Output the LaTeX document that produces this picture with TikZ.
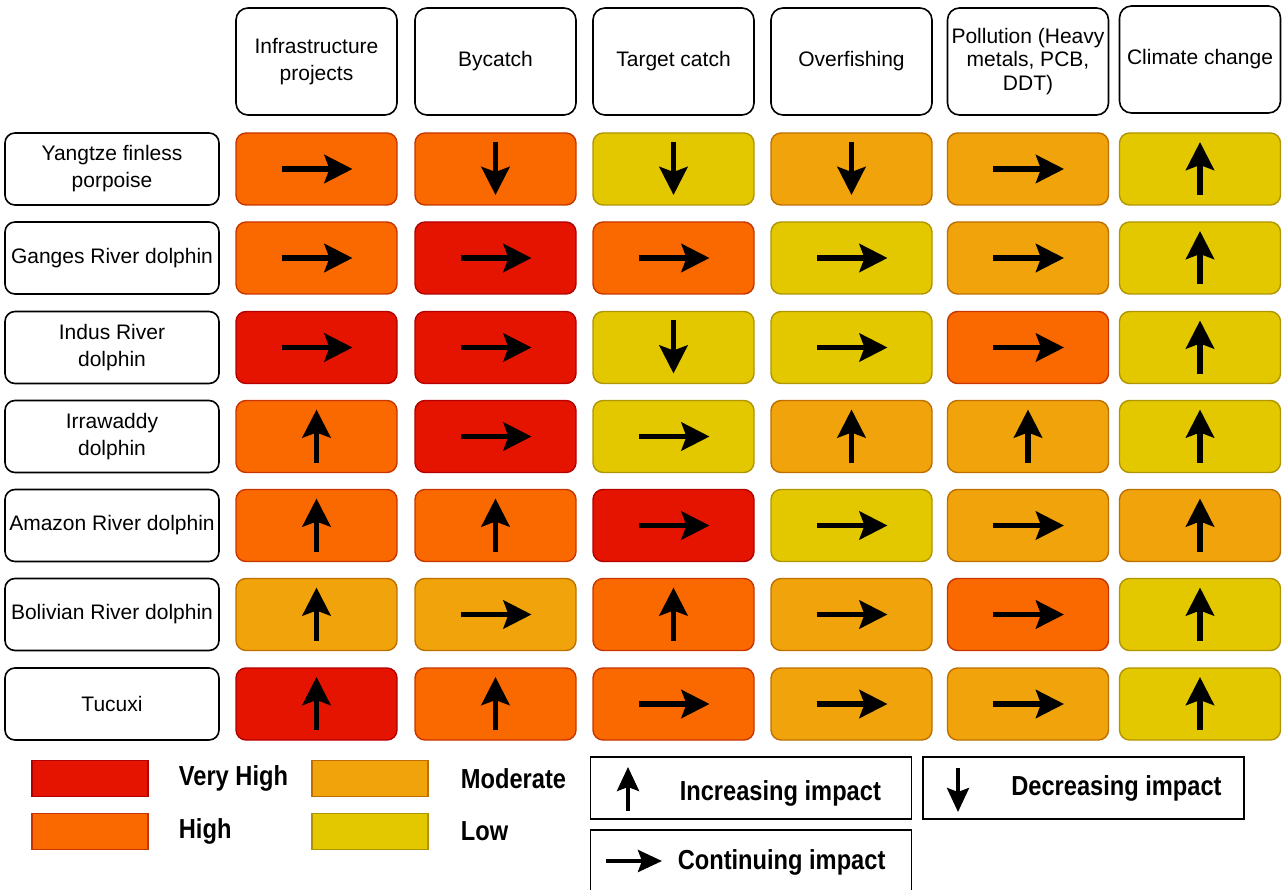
\documentclass[tikz,border=0pt]{standalone}
\usepackage{fontspec}
\setmainfont{Liberation Sans}
\newfontfamily\legendfont{Liberation Sans}[FakeStretch=0.86]
\usetikzlibrary{positioning, arrows.meta}
\definecolor{vhigh}{HTML}{E51400}
\definecolor{vhighline}{HTML}{B20000}
\definecolor{high}{HTML}{FA6800}
\definecolor{highline}{HTML}{C73500}
\definecolor{moder}{HTML}{F0A30A}
\definecolor{moderline}{HTML}{BD7000}
\definecolor{low}{HTML}{E3C800}
\definecolor{lowline}{HTML}{B09500}
% trend arrows inside a cell
\newcommand{\trendR}[1]{\draw[trend] ([xshift=-35pt]#1.center) -- ([xshift=36pt]#1.center);}
\newcommand{\trendU}[1]{\draw[trend] ([yshift=-26pt]#1.center) -- ([yshift=27pt]#1.center);}
\newcommand{\trendD}[1]{\draw[trend] ([yshift=27pt]#1.center) -- ([yshift=-26pt]#1.center);}

\begin{document}
\begin{tikzpicture}[x=1pt, y=-1pt,
    every node/.style={font=\fontsize{21}{27}\selectfont},
    headbox/.style={draw, line width=1.6pt, rounded corners=12pt, minimum width=161pt, minimum height=107pt, align=center, inner sep=2pt},
    namebox/.style={draw, line width=1.6pt, rounded corners=10pt, minimum width=214pt, minimum height=72pt, align=center, inner sep=1pt},
    cell/.style={draw=#1line, fill=#1, line width=1.4pt, rounded corners=10pt, minimum width=161pt, minimum height=72pt},
    swatch/.style={draw=#1line, fill=#1, line width=1.4pt, minimum width=116pt, minimum height=36pt},
    keybox/.style={draw, line width=1.8pt, minimum width=321pt, minimum height=62pt},
    keytext/.style={font=\legendfont\bfseries\fontsize{27.5}{30}\selectfont, anchor=west, inner sep=0pt},
    trend/.style={-{Stealth[length=28pt, width=28pt, inset=5pt]}, line width=5.5pt},
    keytrend/.style={-{Stealth[length=24pt, width=22pt, inset=4pt]}, line width=4pt},
  ]
  \clip (0,0) rectangle (1284,890);

  % threat headers
  \node[headbox] (h1) at (316.5,61.5) {Infrastructure\\projects};
  \node[headbox] (h2) at (495.5,61.5) {Bycatch};
  \node[headbox] (h3) at (673.5,61.5) {Target catch};
  \node[headbox] (h4) at (851.5,61.5) {Overfishing};
  \node[headbox, font=\fontsize{21}{23.5}\selectfont] (h5) at (1028,61.5) {Pollution (Heavy\\metals, PCB,\\DDT)};
  \node[headbox] (h6) at (1200,59.5) {Climate change};

  % species rows
  \node[namebox] (r1) at (112,169) {Yangtze finless\\porpoise};
  \node[namebox] (r2) at (112,258) {Ganges River dolphin};
  \node[namebox] (r3) at (112,347.5) {Indus River\\dolphin};
  \node[namebox] (r4) at (112,436.5) {Irrawaddy\\dolphin};
  \node[namebox] (r5) at (112,525.5) {Amazon River dolphin};
  \node[namebox] (r6) at (112,614.5) {Bolivian River dolphin};
  \node[namebox] (r7) at (112,704) {Tucuxi};

  \foreach \lvl/\dir [count=\j] in {high/R, high/D, low/D, moder/D, moder/R, low/U}
    {\node[cell=\lvl] (c-1-\j) at (h\j |- r1) {}; \csname trend\dir\endcsname{c-1-\j}}
  \foreach \lvl/\dir [count=\j] in {high/R, vhigh/R, high/R, low/R, moder/R, low/U}
    {\node[cell=\lvl] (c-2-\j) at (h\j |- r2) {}; \csname trend\dir\endcsname{c-2-\j}}
  \foreach \lvl/\dir [count=\j] in {vhigh/R, vhigh/R, low/D, low/R, high/R, low/U}
    {\node[cell=\lvl] (c-3-\j) at (h\j |- r3) {}; \csname trend\dir\endcsname{c-3-\j}}
  \foreach \lvl/\dir [count=\j] in {high/U, vhigh/R, low/R, moder/U, moder/U, low/U}
    {\node[cell=\lvl] (c-4-\j) at (h\j |- r4) {}; \csname trend\dir\endcsname{c-4-\j}}
  \foreach \lvl/\dir [count=\j] in {high/U, high/U, vhigh/R, low/R, moder/R, moder/U}
    {\node[cell=\lvl] (c-5-\j) at (h\j |- r5) {}; \csname trend\dir\endcsname{c-5-\j}}
  \foreach \lvl/\dir [count=\j] in {moder/U, moder/R, high/U, moder/R, high/R, low/U}
    {\node[cell=\lvl] (c-6-\j) at (h\j |- r6) {}; \csname trend\dir\endcsname{c-6-\j}}
  \foreach \lvl/\dir [count=\j] in {vhigh/U, high/U, high/R, moder/R, moder/R, low/U}
    {\node[cell=\lvl] (c-7-\j) at (h\j |- r7) {}; \csname trend\dir\endcsname{c-7-\j}}

  % colour key
  \node[swatch=vhigh] (kvh) at (90,778.5) {};
  \node[keytext, right=30pt of kvh] {Very High};
  \node[swatch=high] (kh) at (90,831.5) {};
  \node[keytext, right=30pt of kh] {High};
  \node[swatch=moder] (km) at (370,778.5) {};
  \node[keytext, right=32pt of km] {Moderate};
  \node[swatch=low] (kl) at (370,831.5) {};
  \node[keytext, right=32pt of kl] {Low};

  % trend key
  \node[keybox] (kinc) at (751,788) {};
  \draw[keytrend] ([xshift=-123pt, yshift=-23pt]kinc.center) -- ([xshift=-123pt, yshift=21pt]kinc.center);
  \node[keytext] at ([xshift=90pt, yshift=-5pt]kinc.west) {Increasing impact};
  \node[keybox] (kdec) at (1083.5,788) {};
  \draw[keytrend] ([xshift=-125.5pt, yshift=20pt]kdec.center) -- ([xshift=-125.5pt, yshift=-24pt]kdec.center);
  \node[keytext] at ([xshift=89pt]kdec.west) {Decreasing impact};
  \node[keybox] (kcon) at (751,861) {};
  \draw[keytrend] ([xshift=-145pt]kcon.center) -- ([xshift=-89pt]kcon.center);
  \node[keytext] at ([xshift=88pt, yshift=-1pt]kcon.west) {Continuing impact};
\end{tikzpicture}
\end{document}
